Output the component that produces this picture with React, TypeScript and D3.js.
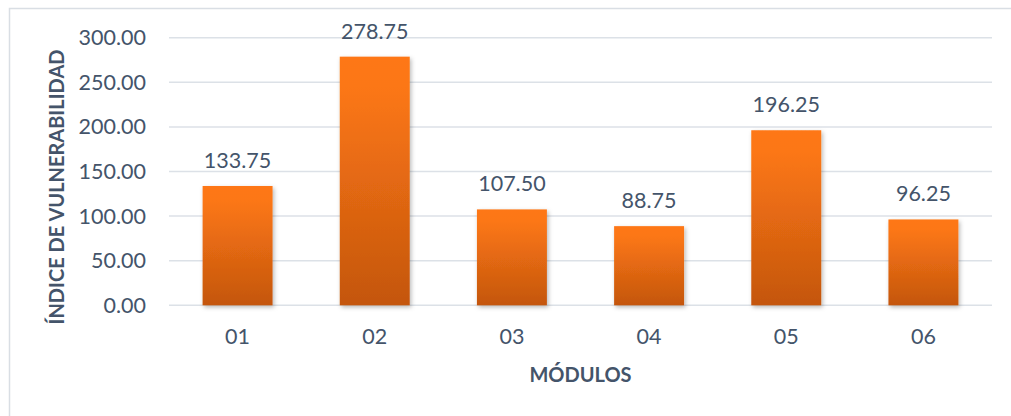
import React from "react";
import * as d3 from "d3";

const modulos = ["01", "02", "03", "04", "05", "06"];
const indices = [133.75, 278.75, 107.5, 88.75, 196.25, 96.25];
const yTicks = [0, 50, 100, 150, 200, 250, 300];
const xTitle = "MÓDULOS";
const yTitle = "ÍNDICE DE VULNERABILIDAD";

const W = 1011;
const H = 416;
const plot = { left: 169, right: 992, top: 37.7, bottom: 305.3 };
const textColor = "#44546A";
const gridColor = "#DCE1E7";
const font = "Lato, 'Open Sans', sans-serif";

export default function App() {
  const x = d3
    .scaleBand<string>()
    .domain(modulos)
    .range([plot.left, plot.right])
    .paddingInner(0.49)
    .paddingOuter(0.245);
  const y = d3.scaleLinear().domain([0, 300]).range([plot.bottom, plot.top]);
  const fmt = d3.format(".2f");

  return (
    <svg
      width={W}
      height={H}
      style={{ position: "fixed", left: 0, top: 0, background: "#fff" }}
    >
      <defs>
        <linearGradient id="barGrad" x1="0" y1="0" x2="0" y2="1">
          <stop offset="0" stopColor="#FE7716" />
          <stop offset="0.12" stopColor="#FC7715" />
          <stop offset="1" stopColor="#C4560E" />
        </linearGradient>
        <filter id="barShadow" x="-20%" y="-20%" width="140%" height="140%">
          <feDropShadow dx="1.5" dy="2" stdDeviation="2" floodColor="#000" floodOpacity="0.28" />
        </filter>
      </defs>

      {/* chart frame */}
      <rect x={9.5} y={8.5} width={1200} height={600} fill="none" stroke="#D9DEE4" strokeWidth={1.5} />

      {/* gridlines */}
      {yTicks.map((t) => (
        <line
          key={t}
          x1={plot.left}
          x2={plot.right}
          y1={y(t)}
          y2={y(t)}
          stroke={gridColor}
          strokeWidth={1.5}
        />
      ))}

      {/* y tick labels */}
      {yTicks.map((t) => (
        <text
          key={t}
          x={146}
          y={y(t) + 7.5}
          textAnchor="end"
          fontFamily={font}
          fontSize={21.5}
          fill={textColor}
        >
          {fmt(t)}
        </text>
      ))}

      {/* bars */}
      {modulos.map((m, i) => (
        <rect
          key={m}
          x={x(m)!}
          y={y(indices[i])}
          width={x.bandwidth()}
          height={plot.bottom - y(indices[i])}
          fill="url(#barGrad)"
          filter="url(#barShadow)"
        />
      ))}

      {/* value labels */}
      {modulos.map((m, i) => (
        <text
          key={m}
          x={x(m)! + x.bandwidth() / 2}
          y={y(indices[i]) - 18}
          textAnchor="middle"
          fontFamily={font}
          fontSize={21.5}
          fill={textColor}
        >
          {fmt(indices[i])}
        </text>
      ))}

      {/* category labels */}
      {modulos.map((m) => (
        <text
          key={m}
          x={x(m)! + x.bandwidth() / 2}
          y={344}
          textAnchor="middle"
          fontFamily={font}
          fontSize={21.5}
          fill={textColor}
        >
          {m}
        </text>
      ))}

      {/* axis titles */}
      <text
        x={(plot.left + plot.right) / 2}
        y={382}
        textAnchor="middle"
        fontFamily={font}
        fontWeight={700}
        fontSize={20}
        fill={textColor}
      >
        {xTitle}
      </text>
      <text
        transform={`translate(64,187) rotate(-90)`}
        textAnchor="middle"
        fontFamily={font}
        fontWeight={700}
        fontSize={20}
        fill={textColor}
      >
        {yTitle}
      </text>
    </svg>
  );
}
